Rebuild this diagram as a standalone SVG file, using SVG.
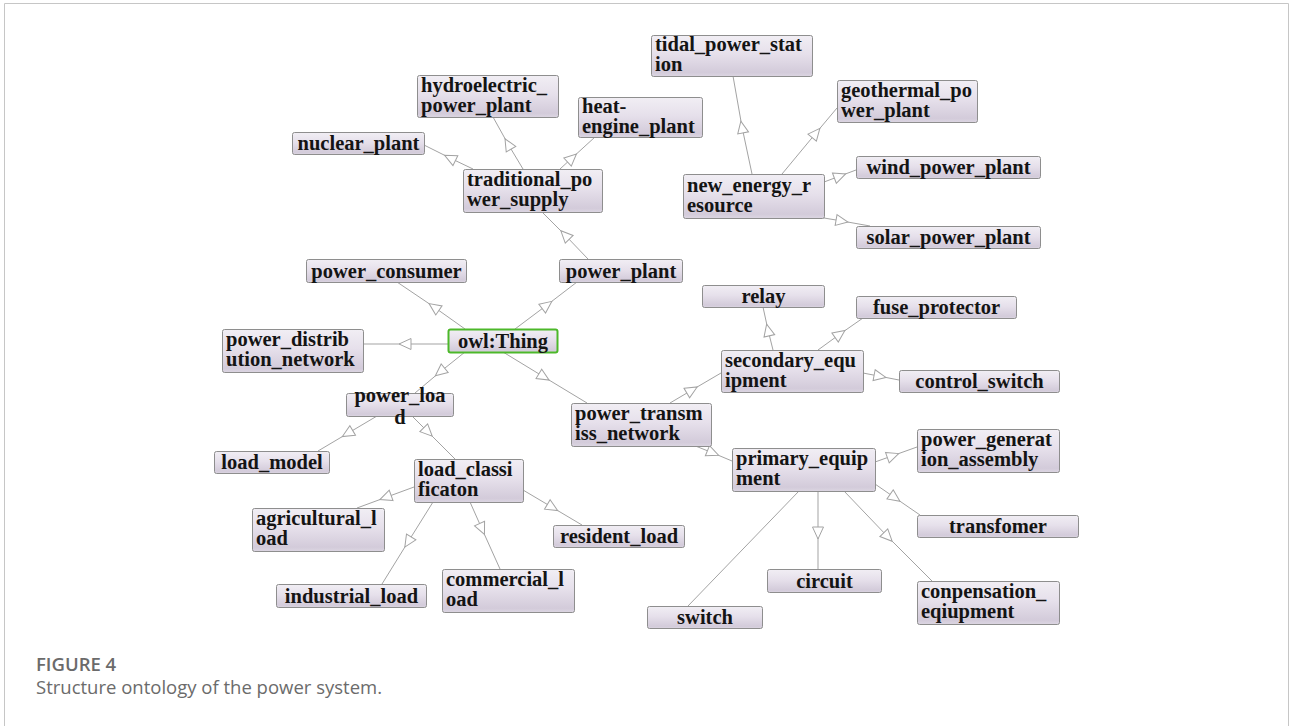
<svg xmlns="http://www.w3.org/2000/svg" width="1290" height="726" viewBox="0 0 1290 726">
  <defs>
    <linearGradient id="boxFill" x1="0" y1="0" x2="0" y2="1">
      <stop offset="0" stop-color="#f1eef4"/>
      <stop offset="0.45" stop-color="#e6e0eb"/>
      <stop offset="0.9" stop-color="#d3cbda"/>
      <stop offset="1" stop-color="#dcd6e2"/>
    </linearGradient>
    <marker id="tri" markerUnits="userSpaceOnUse" markerWidth="14" markerHeight="13" refX="6" refY="5.5" orient="auto" overflow="visible">
      <path d="M0,0 L12,5.5 L0,11 Z" fill="#ffffff" stroke="#a3a3a3" stroke-width="1"/>
    </marker>
  </defs>
  <style>
    .frame { stroke: #c6c6c6; stroke-width: 1; fill: none; }
    .box { fill: url(#boxFill); stroke: #8e8e8e; stroke-width: 1; }
    .root { fill: url(#boxFill); stroke: #4cb82a; stroke-width: 2; }
    .lbl { font-family: "Liberation Serif", "Times New Roman", serif; font-weight: bold; font-size: 20.5px; fill: #141414; }
    .c { text-anchor: middle; }
    .edge { fill: none; stroke: #a3a3a3; stroke-width: 1; }
    .edge.sub { marker-mid: url(#tri); }
    .cap { font-family: "Open Sans", "Noto Sans", sans-serif; font-size: 18.5px; fill: #6b6b6b; }
  </style>

  <rect width="1290" height="726" fill="#ffffff"/>
  <path class="frame" d="M4.5,726 V3.5 H1288.5 V726"/>

  <!-- subclass connectors: parent point, arrow position, child point -->
  <g id="connectors">
    <path class="edge sub" d="M465,329 L434,307 L397,282"/>
    <path class="edge sub" d="M515,329 L547,305 L577,282"/>
    <path class="edge sub" d="M448,344 L405,344 L363,344"/>
    <path class="edge sub" d="M465,352 L440,372 L415,393"/>
    <path class="edge sub" d="M503,352 L544,377 L587,403"/>
    <path class="edge sub" d="M588,259 L565,235 L542,212"/>
    <path class="edge sub" d="M473,169 L450,158 L424,145"/>
    <path class="edge sub" d="M523,169 L508,144 L493,117"/>
    <path class="edge sub" d="M560,169 L572,158 L595,137"/>
    <path class="edge sub" d="M752,174 L742,127 L733,76"/>
    <path class="edge sub" d="M782,174 L816,133 L837,108"/>
    <path class="edge sub" d="M824,182 L840,176 L856,170"/>
    <path class="edge sub" d="M824,218 L842,221 L870,226"/>
    <path class="edge sub" d="M670,403 L692,390 L721,373"/>
    <path class="edge sub" d="M773,350 L768,330 L763,307"/>
    <path class="edge sub" d="M818,350 L840,334 L863,318"/>
    <path class="edge sub" d="M863,373 L880,376.3 L899,380"/>
    <path class="edge sub" d="M693,445 L713,453 L732,461"/>
    <path class="edge sub" d="M875,462 L893,455.6 L917,447"/>
    <path class="edge sub" d="M875,484 L895,497.8 L920,515"/>
    <path class="edge sub" d="M818,491 L818,533 L818,569"/>
    <path class="edge sub" d="M844,491 L888,537 L932,581"/>
    <path class="edge" d="M799,491 L688,606"/>
    <path class="edge sub" d="M377,416 L347.5,433.5 L318,451"/>
    <path class="edge sub" d="M412,416 L428,432 L455,459"/>
    <path class="edge sub" d="M414,487 L385.5,497.5 L357,508"/>
    <path class="edge sub" d="M433,502 L408,542 L382,584"/>
    <path class="edge sub" d="M470,502 L482,529 L500,569"/>
    <path class="edge sub" d="M523,490 L552.5,507.5 L582,525"/>
  </g>

  <g id="tidal_power_station">
    <rect class="box" x="651.5" y="35.5" width="161" height="41" rx="2"/>
    <text class="lbl" x="655" y="51">tidal_power_stat</text>
    <text class="lbl" x="655" y="71">ion</text>
  </g>
  <g id="geothermal_power_plant">
    <rect class="box" x="837.5" y="80.5" width="140" height="42" rx="2"/>
    <text class="lbl" x="841" y="97">geothermal_po</text>
    <text class="lbl" x="841" y="117">wer_plant</text>
  </g>
  <g id="wind_power_plant">
    <rect class="box" x="856.5" y="156.5" width="184" height="22" rx="2"/>
    <text class="lbl c" x="948.5" y="174">wind_power_plant</text>
  </g>
  <g id="new_energy_resource">
    <rect class="box" x="683.5" y="174.5" width="141" height="44" rx="2"/>
    <text class="lbl" x="687" y="192">new_energy_r</text>
    <text class="lbl" x="687" y="212">esource</text>
  </g>
  <g id="solar_power_plant">
    <rect class="box" x="856.5" y="226.5" width="184" height="22" rx="2"/>
    <text class="lbl c" x="948.5" y="244">solar_power_plant</text>
  </g>
  <g id="hydroelectric_power_plant">
    <rect class="box" x="417.5" y="75.5" width="141" height="42" rx="2"/>
    <text class="lbl" x="421" y="92">hydroelectric_</text>
    <text class="lbl" x="421" y="112">power_plant</text>
  </g>
  <g id="heat_engine_plant">
    <rect class="box" x="578.5" y="97.5" width="124" height="40" rx="2"/>
    <text class="lbl" x="582" y="113">heat-</text>
    <text class="lbl" x="582" y="133">engine_plant</text>
  </g>
  <g id="nuclear_plant">
    <rect class="box" x="292.5" y="132.5" width="132" height="22" rx="2"/>
    <text class="lbl c" x="358.5" y="150">nuclear_plant</text>
  </g>
  <g id="traditional_power_supply">
    <rect class="box" x="463.5" y="169.5" width="139" height="43" rx="2"/>
    <text class="lbl" x="467" y="186">traditional_po</text>
    <text class="lbl" x="467" y="206">wer_supply</text>
  </g>
  <g id="power_consumer">
    <rect class="box" x="306.5" y="259.5" width="160" height="23" rx="2"/>
    <text class="lbl c" x="386.5" y="277.5">power_consumer</text>
  </g>
  <g id="power_plant">
    <rect class="box" x="559.5" y="259.5" width="123" height="23" rx="2"/>
    <text class="lbl c" x="621" y="277.5">power_plant</text>
  </g>
  <g id="owl_Thing">
    <rect class="root" x="448.5" y="329.5" width="109" height="23" rx="2"/>
    <text class="lbl c" x="503" y="347.5">owl:Thing</text>
  </g>
  <g id="power_distribution_network">
    <rect class="box" x="222.5" y="329.5" width="141" height="43" rx="2"/>
    <text class="lbl" x="226" y="346">power_distrib</text>
    <text class="lbl" x="226" y="366">ution_network</text>
  </g>
  <g id="power_load">
    <rect class="box" x="346.5" y="393.5" width="107" height="23" rx="2"/>
    <text class="lbl c" x="400" y="401.5">power_loa</text>
    <text class="lbl c" x="400" y="423.5">d</text>
  </g>
  <g id="power_transmiss_network">
    <rect class="box" x="571.5" y="403.5" width="140" height="43" rx="2"/>
    <text class="lbl" x="575" y="420">power_transm</text>
    <text class="lbl" x="575" y="440">iss_network</text>
  </g>
  <g id="relay">
    <rect class="box" x="702.5" y="285.5" width="122" height="22" rx="2"/>
    <text class="lbl c" x="763.5" y="303">relay</text>
  </g>
  <g id="fuse_protector">
    <rect class="box" x="856.5" y="296.5" width="160" height="22" rx="2"/>
    <text class="lbl c" x="936.5" y="314">fuse_protector</text>
  </g>
  <g id="secondary_equipment">
    <rect class="box" x="721.5" y="350.5" width="142" height="42" rx="2"/>
    <text class="lbl" x="725" y="367">secondary_equ</text>
    <text class="lbl" x="725" y="387">ipment</text>
  </g>
  <g id="control_switch">
    <rect class="box" x="899.5" y="370.5" width="160" height="22" rx="2"/>
    <text class="lbl c" x="979.5" y="388">control_switch</text>
  </g>
  <g id="primary_equipment">
    <rect class="box" x="732.5" y="448.5" width="143" height="43" rx="2"/>
    <text class="lbl" x="736" y="465">primary_equip</text>
    <text class="lbl" x="736" y="485">ment</text>
  </g>
  <g id="power_generation_assembly">
    <rect class="box" x="917.5" y="429.5" width="142" height="43" rx="2"/>
    <text class="lbl" x="921" y="446">power_generat</text>
    <text class="lbl" x="921" y="466">ion_assembly</text>
  </g>
  <g id="transfomer">
    <rect class="box" x="917.5" y="515.5" width="161" height="22" rx="2"/>
    <text class="lbl c" x="998" y="533">transfomer</text>
  </g>
  <g id="circuit">
    <rect class="box" x="767.5" y="569.5" width="114" height="23" rx="2"/>
    <text class="lbl c" x="824.5" y="587.5">circuit</text>
  </g>
  <g id="conpensation_eqiupment">
    <rect class="box" x="917.5" y="581.5" width="142" height="43" rx="2"/>
    <text class="lbl" x="921" y="598">conpensation_</text>
    <text class="lbl" x="921" y="618">eqiupment</text>
  </g>
  <g id="switch">
    <rect class="box" x="647.5" y="606.5" width="115" height="22" rx="2"/>
    <text class="lbl c" x="705" y="624">switch</text>
  </g>
  <g id="load_model">
    <rect class="box" x="214.5" y="451.5" width="115" height="22" rx="2"/>
    <text class="lbl c" x="272" y="469">load_model</text>
  </g>
  <g id="load_classificaton">
    <rect class="box" x="414.5" y="459.5" width="109" height="43" rx="2"/>
    <text class="lbl" x="418" y="476">load_classi</text>
    <text class="lbl" x="418" y="496">ficaton</text>
  </g>
  <g id="agricultural_load">
    <rect class="box" x="252.5" y="508.5" width="132" height="43" rx="2"/>
    <text class="lbl" x="256" y="525">agricultural_l</text>
    <text class="lbl" x="256" y="545">oad</text>
  </g>
  <g id="resident_load">
    <rect class="box" x="553.5" y="525.5" width="131" height="22" rx="2"/>
    <text class="lbl c" x="619" y="543">resident_load</text>
  </g>
  <g id="industrial_load">
    <rect class="box" x="276.5" y="584.5" width="150" height="23" rx="2"/>
    <text class="lbl c" x="351.5" y="602.5">industrial_load</text>
  </g>
  <g id="commercial_load">
    <rect class="box" x="442.5" y="569.5" width="132" height="43" rx="2"/>
    <text class="lbl" x="446" y="586">commercial_l</text>
    <text class="lbl" x="446" y="606">oad</text>
  </g>

  <g id="caption">
    <text class="cap" x="36" y="671" font-weight="600">FIGURE 4</text>
    <text class="cap" x="36" y="694">Structure ontology of the power system.</text>
  </g>
</svg>
